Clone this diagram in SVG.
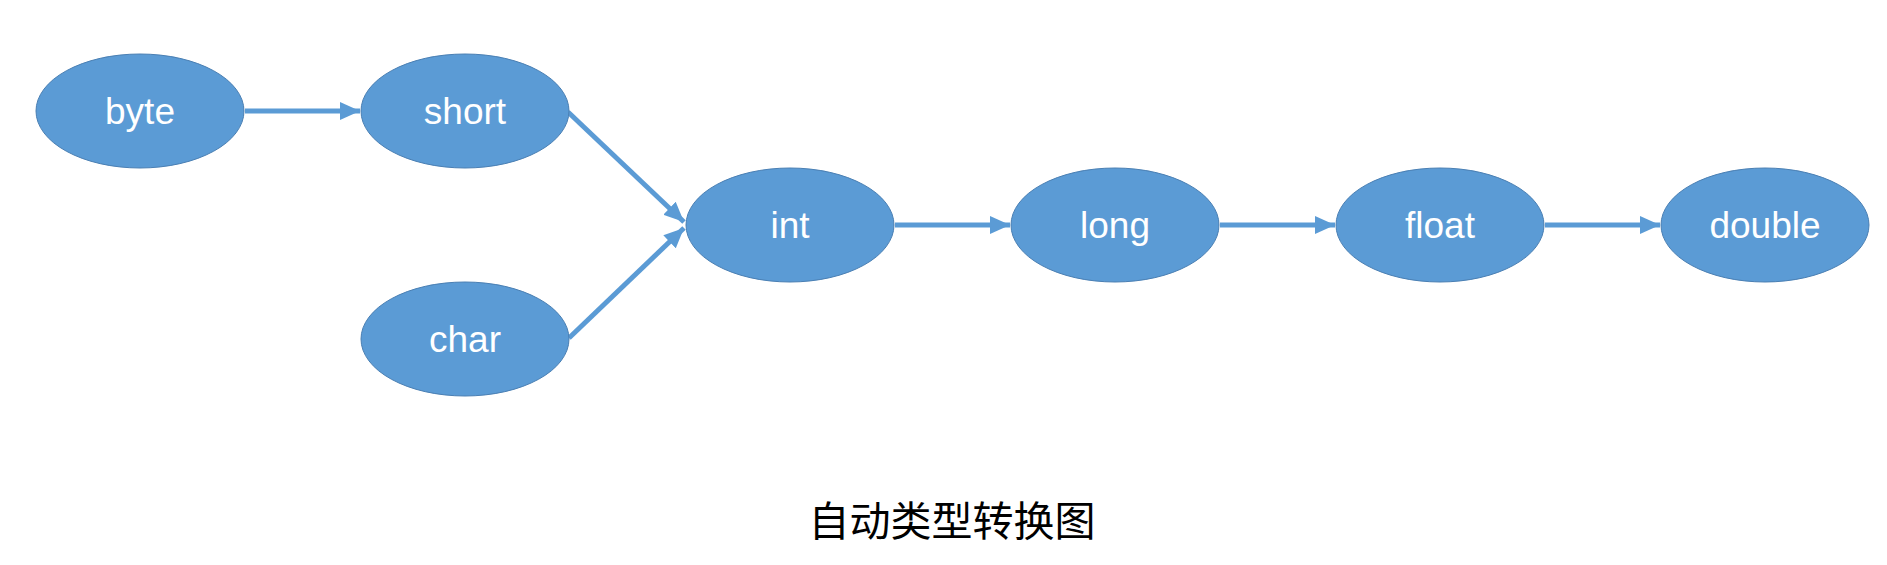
<svg xmlns="http://www.w3.org/2000/svg" width="1887" height="565" viewBox="0 0 1887 565">
<style>
.node ellipse{fill:#5B9BD5;stroke:#4A7FB3;stroke-width:1}
.node text{fill:#FFFFFF;font-family:"Liberation Sans",Arial,sans-serif;font-size:37px;text-anchor:middle}
.edge{stroke:#5B9BD5;stroke-width:5;fill:none;marker-end:url(#arrow)}
.title{fill:#000000;font-family:"Noto Sans CJK SC","Liberation Sans",sans-serif;font-size:41px;text-anchor:middle}
</style>
<defs>
<marker id="arrow" markerUnits="userSpaceOnUse" markerWidth="20" markerHeight="18" refX="20" refY="9" orient="auto">
<path d="M0,0 L20,9 L0,18 Z" fill="#5B9BD5"/>
</marker>
</defs>
<rect width="1887" height="565" fill="#FFFFFF"/>
<g id="connectors">
<line class="edge" x1="245" y1="111" x2="360" y2="111"/>
<line class="edge" x1="568" y1="112" x2="684" y2="222"/>
<line class="edge" x1="569" y1="338" x2="684" y2="228"/>
<line class="edge" x1="895" y1="225" x2="1010" y2="225"/>
<line class="edge" x1="1220" y1="225" x2="1335" y2="225"/>
<line class="edge" x1="1545" y1="225" x2="1660" y2="225"/>
</g>
<g id="byte" class="node"><ellipse cx="140" cy="111" rx="104" ry="57"/><text x="140" y="124">byte</text></g>
<g id="short" class="node"><ellipse cx="465" cy="111" rx="104" ry="57"/><text x="465" y="124">short</text></g>
<g id="char" class="node"><ellipse cx="465" cy="339" rx="104" ry="57"/><text x="465" y="352">char</text></g>
<g id="int" class="node"><ellipse cx="790" cy="225" rx="104" ry="57"/><text x="790" y="238">int</text></g>
<g id="long" class="node"><ellipse cx="1115" cy="225" rx="104" ry="57"/><text x="1115" y="238">long</text></g>
<g id="float" class="node"><ellipse cx="1440" cy="225" rx="104" ry="57"/><text x="1440" y="238">float</text></g>
<g id="double" class="node"><ellipse cx="1765" cy="225" rx="104" ry="57"/><text x="1765" y="238">double</text></g>
<text class="title" x="952" y="536">自动类型转换图</text>
</svg>
